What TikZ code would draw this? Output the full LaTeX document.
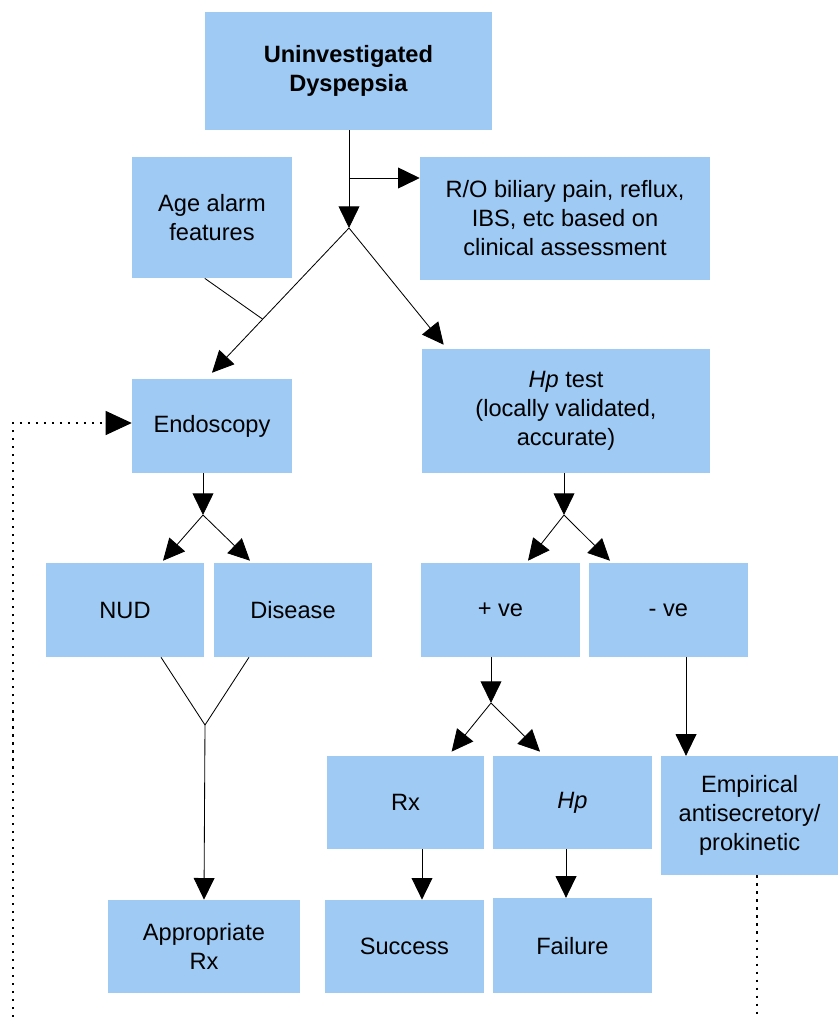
\documentclass[tikz,border=0pt]{standalone}
\usepackage{fontspec}
\setmainfont{Liberation Sans}
\usepackage{tikz}
\usetikzlibrary{arrows.meta,calc}
\definecolor{boxblue}{RGB}{158,202,244}

\begin{document}
\begin{tikzpicture}[b/.style={fill=boxblue,align=center,inner sep=0pt,font=\fontsize{16.8}{20.6}\selectfont},
 a/.style={-{Triangle[length=5.4mm,width=5.2mm]},line width=0.6pt},
 l/.style={line width=0.6pt},
 d/.style={line width=1.5pt,dash pattern=on 1.5pt off 4.2pt}]
\useasboundingbox (0,0) rectangle (20.95,-25.425);
% top
\node[b,minimum width=7.175cm,minimum height=2.95cm] (top) at (8.71,-1.775) {\textbf{Uninvestigated}\\\textbf{Dyspepsia}};
\node[b,minimum width=4cm,minimum height=3.025cm] (age) at (5.3,-5.44) {Age alarm\\features};
\node[b,minimum width=7.25cm,minimum height=3.075cm] (ro) at (14.125,-5.46) {R/O biliary pain, reflux,\\IBS, etc based on\\clinical assessment};
% second row
\node[b,minimum width=4cm,minimum height=2.35cm] (endo) at (5.3,-10.65) {Endoscopy};
\node[b,minimum width=7.2cm,minimum height=3.1cm] (hpt) at (14.15,-10.275) {\textit{Hp} test\\(locally validated,\\accurate)};
% third row
\node[b,minimum width=3.95cm,minimum height=2.35cm] (nud) at (3.125,-15.25) {NUD};
\node[b,minimum width=3.95cm,minimum height=2.35cm] (dis) at (7.325,-15.25) {Disease};
\node[b,minimum width=3.975cm,minimum height=2.35cm] (pos) at (12.51,-15.25) {+ ve};
\node[b,minimum width=3.975cm,minimum height=2.35cm] (neg) at (16.71,-15.25) {- ve};
% fourth row
\node[b,minimum width=3.925cm,minimum height=2.325cm] (rx) at (10.14,-20.06) {Rx};
\node[b,minimum width=3.975cm,minimum height=2.325cm] (hp) at (14.31,-20.06) {\textit{Hp}};
\node[b,minimum width=4.425cm,minimum height=2.975cm] (emp) at (18.74,-20.39) {Empirical\\antisecretory/\\prokinetic};
% bottom row
\node[b,minimum width=4.8cm,minimum height=2.325cm] (appr) at (5.1,-23.66) {Appropriate\\Rx};
\node[b,minimum width=3.975cm,minimum height=2.325cm] (succ) at (10.11,-23.66) {Success};
\node[b,minimum width=3.975cm,minimum height=2.375cm] (fail) at (14.31,-23.64) {Failure};
% split points
\coordinate (sp1) at (8.725,-5.7);
\coordinate (br1) at (8.725,-4.45);
\coordinate (sp2) at (5.075,-12.875);
\coordinate (sp3) at (14.1,-12.875);
\coordinate (sp4) at (12.275,-17.575);
\coordinate (vj) at (5.125,-18.125);
\coordinate (xn) at (17.15,0);
\coordinate (xs) at (10.55,0);
\coordinate (xf) at (14.15,0);
\coordinate (lp) at (0.32,-25.425);
\coordinate (rp) at (18.925,-25.425);
\coordinate (e1) at ([yshift=0.15cm]endo.north);
% top part
\draw[a] (top.south -| sp1)--(sp1);
\draw[a] (br1)--(br1 -| ro.west);
\draw[a] (sp1)--(e1);
\draw[a] (sp1)--([xshift=0.55cm,yshift=0.1cm]hpt.north west);
\draw[l] ([xshift=-0.18cm]age.south)--($(sp1)!0.63!(e1)$);
% endoscopy branch
\draw[a] (endo.south -| sp2)--(sp2);
\draw[a] (sp2)--([xshift=0.95cm,yshift=0.05cm]nud.north);
\draw[a] (sp2)--([xshift=-1.075cm,yshift=0.05cm]dis.north);
\draw[l] ([xshift=0.9cm]nud.south)--(vj);
\draw[l] ([xshift=-1.1cm]dis.south)--(vj);
\draw[a] (vj)--(appr.north);
% Hp test branch
\draw[a] (hpt.south -| sp3)--(sp3);
\draw[a] (sp3)--([xshift=0.69cm,yshift=0.05cm]pos.north);
\draw[a] (sp3)--([xshift=-1.46cm,yshift=0.05cm]neg.north);
\draw[a] (pos.south -| sp4)--(sp4);
\draw[a] (sp4)--([xshift=1.15cm,yshift=0.1cm]rx.north);
\draw[a] (sp4)--([xshift=-0.81cm,yshift=0.1cm]hp.north);
\draw[a] (neg.south -| xn)--(emp.north -| xn);
\draw[a] (rx.south -| xs)--(succ.north -| xs);
\draw[a] (hp.south -| xf)--(fail.north -| xf);
% loop back
\draw[d] (rp |- emp.south)--(rp);
\draw[d] (lp)|-([yshift=0.075cm,xshift=-0.6cm]endo.west);
\draw[-{Triangle[length=6.5mm,width=6mm]},line width=0.6pt] ([yshift=0.075cm,xshift=-0.65cm]endo.west)--([yshift=0.075cm]endo.west);
\end{tikzpicture}
\end{document}
